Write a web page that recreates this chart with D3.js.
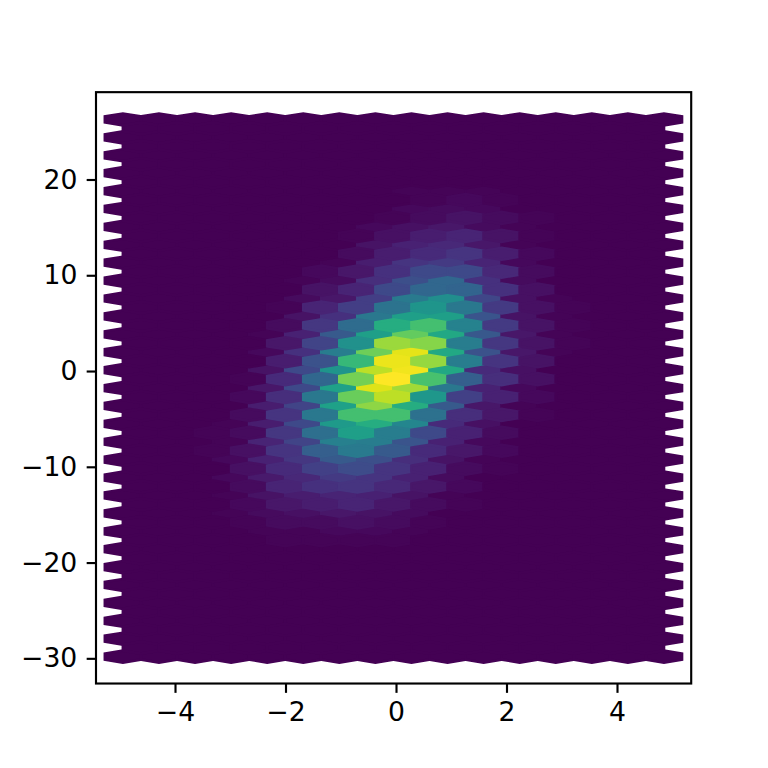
<!DOCTYPE html>
<html>
<head>
<meta charset="utf-8">
<script src="https://cdn.jsdelivr.net/npm/d3@7"></script>
<style>
	html, body { margin: 0; padding: 0; background: #fff; }
	svg { display: block; }
</style>
</head>
<body>
<div class="graphic"></div>
<script>

var xTicks = [-4, -2, 0, 2, 4];
var yTicks = [-30, -20, -10, 0, 10, 20];

// hexbin grid, in data units: first and last bin centres
var xExtent = [-4.943, 4.85];
var yExtent = [-29.82, 26.27];
var xLimits = [-5.43, 5.343];
var yLimits = [-32.63, 29.12];
var gridX = 15;
var gridY = 30;

// bin counts, top row first. Columns start at row 4 and
// run to row 23, anything outside is an empty bin
var firstRow = 4;

// outer lattice, columns 3 to 12
var outerColumn3 = [0,0,0,0,0,0,0,0,0,0,0,0,0,1,1,2,2,1,1,0];
var outerColumn4 = [0,0,0,0,0,0,0,0,1,2,5,6,8,8,10,9,7,5,3,1];
var outerColumn5 = [0,0,0,0,0,1,3,5,9,14,22,22,20,22,20,16,11,8,4,1];
var outerColumn6 = [0,0,0,0,1,3,6,14,28,42,52,57,57,54,43,28,17,10,6,2];
var outerColumn7 = [0,0,2,5,8,13,18,40,56,78,90,95,83,62,42,24,15,9,5,2];
var outerColumn8 = [1,2,4,9,15,24,41,56,76,96,98,86,62,46,26,13,9,5,3,1];
var outerColumn9 = [1,3,6,11,17,33,49,56,60,60,60,40,28,12,9,5,3,1,0,0];
var outerColumn10 = [1,2,3,6,10,14,21,26,27,25,12,9,6,4,2,1,0,0,0,0];
var outerColumn11 = [0,0,1,1,2,3,4,5,6,6,4,2,1,0,0,0,0,0,0,0];
var outerColumn12 = [0,0,0,0,0,0,1,1,1,1,0,0,0,0,0,0,0,0,0,0];

// inner lattice, columns 2 to 12
var innerColumn2 = [0,0,0,0,0,0,0,0,0,0,0,0,0,1,1,0,0,0,0,0];
var innerColumn3 = [0,0,0,0,0,0,0,0,0,0,1,2,3,3,4,4,3,2,1,0];
var innerColumn4 = [0,0,0,0,0,0,1,3,6,8,12,13,15,16,15,12,10,6,3,1];
var innerColumn5 = [0,0,0,0,2,5,10,16,20,25,33,40,40,36,30,19,14,8,3,1];
var innerColumn6 = [0,0,1,3,6,10,18,35,50,67,79,77,70,56,41,23,15,10,4,1];
var innerColumn7 = [0,1,4,8,14,22,38,62,85,97,100,90,70,42,28,15,11,6,3,1];
var innerColumn8 = [1,3,8,12,22,33,52,70,82,84,71,53,37,22,12,9,6,3,1,0];
var innerColumn9 = [2,5,10,15,22,32,40,44,42,42,30,19,13,9,6,3,2,1,0,0];
var innerColumn10 = [1,3,5,8,11,14,17,17,16,15,13,9,6,3,2,1,0,0,0,0];
var innerColumn11 = [0,1,1,2,3,4,4,5,5,5,4,2,1,0,0,0,0,0,0,0];
var innerColumn12 = [0,0,0,0,0,0,1,1,1,0,0,0,0,0,0,0,0,0,0,0];

var outerColumns = {3: outerColumn3, 4: outerColumn4, 5: outerColumn5, 6: outerColumn6, 7: outerColumn7, 8: outerColumn8, 9: outerColumn9, 10: outerColumn10, 11: outerColumn11, 12: outerColumn12};
var innerColumns = {2: innerColumn2, 3: innerColumn3, 4: innerColumn4, 5: innerColumn5, 6: innerColumn6, 7: innerColumn7, 8: innerColumn8, 9: innerColumn9, 10: innerColumn10, 11: innerColumn11, 12: innerColumn12};

function makeHexbin() {

	var width = 768;
	var height = 768;
	var left = 96;
	var right = 691.2;
	var top = 92.16;
	var bottom = 683.52;
	var pt = 192 / 72;

	var svg = d3.select('.graphic').append('svg')
		.attr('width', width)
		.attr('height', height)
		.attr('viewBox', `0 0 ${width} ${height}`);

	var x = d3.scaleLinear().domain(xLimits).range([left, right]);
	var y = d3.scaleLinear().domain(yLimits).range([bottom, top]);
	var color = d3.scaleSequential(d3.interpolateViridis).domain([0, 100]);

	var stepX = (xExtent[1] - xExtent[0]) / gridX;
	var stepY = (yExtent[1] - yExtent[0]) / gridY;

	// same corner order as matplotlib's hexbin
	var corners = [[.5, -.5], [.5, .5], [0, 1], [-.5, .5], [-.5, -.5], [0, -1]];

	function bins(columns, nx, ny, shift) {
		var out = [];
		for (var i = 0; i < nx; i++) {
			for (var r = 0; r < ny; r++) {
				var col = columns[i];
				var value = col && col[r - firstRow] ? col[r - firstRow] : 0;
				out.push({
					cx: xExtent[0] + (i + shift) * stepX,
					cy: yExtent[1] - (r + shift) * stepY,
					value: value
				});
			}
		}
		return out;
	}

	function hexPath(d) {
		return 'M' + corners.map(function(c) {
			return x(d.cx + c[0] * stepX) + ',' + y(d.cy + c[1] * stepY / 3);
		}).join('L') + 'Z';
	}

	// inner lattice goes last, its edges sit on top
	var data = bins(outerColumns, gridX + 1, gridY + 1, 0).concat(bins(innerColumns, gridX, gridY, .5));

	svg.append('g').selectAll('path')
		.data(data)
		.enter()
		.append('path')
		.attr('d', hexPath)
		.attr('fill', function(d) { return color(d.value); })
		.attr('stroke', function(d) { return color(d.value); })
		.attr('stroke-width', pt);

	var xAxis = d3.axisBottom(x).tickValues(xTicks).tickSize(3.5 * pt).tickPadding(3.5 * pt);
	var yAxis = d3.axisLeft(y).tickValues(yTicks).tickSize(3.5 * pt).tickPadding(3.5 * pt);

	var gx = svg.append('g').attr('transform', `translate(0,${bottom})`).call(xAxis);
	var gy = svg.append('g').attr('transform', `translate(${left},0)`).call(yAxis);

	[gx, gy].forEach(function(g) {
		g.select('.domain').remove();
		g.selectAll('.tick line').attr('stroke', '#000').attr('stroke-width', .8 * pt);
		g.selectAll('text').attr('fill', '#000').style('font-family', '"DejaVu Sans"').style('font-size', (10 * pt) + 'px');
	});

	svg.append('rect')
		.attr('x', left)
		.attr('y', top)
		.attr('width', right - left)
		.attr('height', bottom - top)
		.attr('fill', 'none')
		.attr('stroke', '#000')
		.attr('stroke-width', .8 * pt);
}

makeHexbin();

</script>
</body>
</html>
